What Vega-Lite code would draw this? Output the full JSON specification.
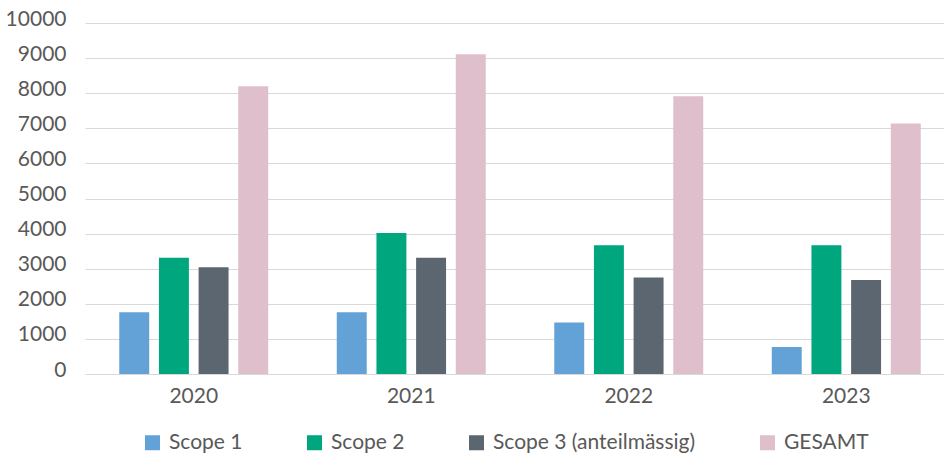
{
  "$schema": "https://vega.github.io/schema/vega-lite/v6.json",
  "width": 861,
  "height": 351,
  "autosize": {"type": "none"},
  "padding": {"left": 83, "top": 23, "right": 0, "bottom": 81},
  "background": "white",
  "data": {
    "values": [
      {"year": "2020", "series": "Scope 1", "value": 1760},
      {"year": "2020", "series": "Scope 2", "value": 3310},
      {"year": "2020", "series": "Scope 3 (anteilmässig)", "value": 3040},
      {"year": "2020", "series": "GESAMT", "value": 8200},
      {"year": "2021", "series": "Scope 1", "value": 1760},
      {"year": "2021", "series": "Scope 2", "value": 4020},
      {"year": "2021", "series": "Scope 3 (anteilmässig)", "value": 3310},
      {"year": "2021", "series": "GESAMT", "value": 9110},
      {"year": "2022", "series": "Scope 1", "value": 1470},
      {"year": "2022", "series": "Scope 2", "value": 3670},
      {"year": "2022", "series": "Scope 3 (anteilmässig)", "value": 2750},
      {"year": "2022", "series": "GESAMT", "value": 7910},
      {"year": "2023", "series": "Scope 1", "value": 770},
      {"year": "2023", "series": "Scope 2", "value": 3670},
      {"year": "2023", "series": "Scope 3 (anteilmässig)", "value": 2680},
      {"year": "2023", "series": "GESAMT", "value": 7140}
    ]
  },
  "mark": {"type": "bar"},
  "encoding": {
    "x": {
      "field": "year",
      "type": "nominal",
      "scale": {"range": [2, 872], "paddingInner": 0, "paddingOuter": 0},
      "axis": {
        "title": null,
        "labelAngle": 0,
        "domain": false,
        "ticks": false,
        "labelFont": "Lato",
        "labelFontSize": 21,
        "labelColor": "#595959",
        "labelPadding": 11
      }
    },
    "xOffset": {
      "field": "series",
      "type": "nominal",
      "sort": ["Scope 1", "Scope 2", "Scope 3 (anteilmässig)", "GESAMT"],
      "scale": {"paddingInner": 0.245, "paddingOuter": 0.864}
    },
    "y": {
      "field": "value",
      "type": "quantitative",
      "scale": {"domain": [0, 10000], "nice": false},
      "axis": {
        "title": null,
        "values": [0, 1000, 2000, 3000, 4000, 5000, 6000, 7000, 8000, 9000, 10000],
        "format": "d",
        "domain": false,
        "ticks": false,
        "grid": true,
        "gridColor": "#d9d9d9",
        "gridWidth": 1.2,
        "labelFont": "Lato",
        "labelFontSize": 21,
        "labelColor": "#595959",
        "labelPadding": 17,
        "labelOffset": -4
      }
    },
    "color": {
      "field": "series",
      "type": "nominal",
      "scale": {
        "domain": ["Scope 1", "Scope 2", "Scope 3 (anteilmässig)", "GESAMT"],
        "range": ["#62A2D6", "#00A67D", "#5B6671", "#DEBFCB"]
      },
      "legend": {
        "title": null,
        "orient": "none",
        "legendX": 59,
        "legendY": 409,
        "direction": "horizontal",
        "symbolType": "square",
        "symbolSize": 225,
        "symbolStrokeWidth": 0,
        "symbolOpacity": 1,
        "labelFont": "Lato",
        "labelFontSize": 21,
        "labelColor": "#595959",
        "labelOffset": 6,
        "labelLimit": 400,
        "columnPadding": 61
      }
    }
  },
  "config": {
    "view": {"stroke": null}
  }
}
